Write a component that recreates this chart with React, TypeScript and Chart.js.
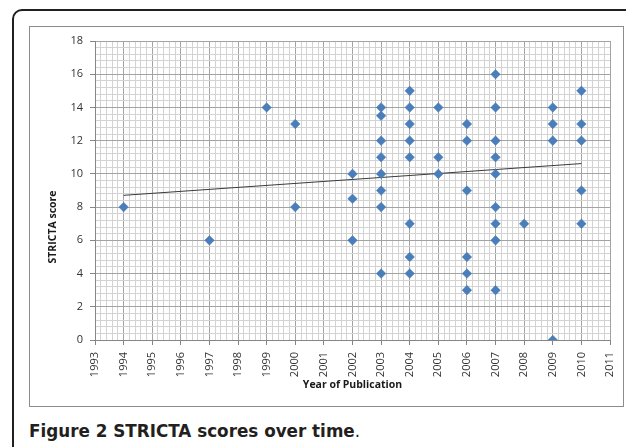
import React, { useEffect, useRef } from 'react';
import { Chart, registerables } from 'chart.js';

Chart.register(...registerables);

// Publication year of each study (one entry per marker)
const pubYears = [
  1994, 1997, 1999, 2000, 2000,
  2002, 2002, 2002,
  2003, 2003, 2003, 2003, 2003, 2003, 2003, 2003,
  2004, 2004, 2004, 2004, 2004, 2004, 2004, 2004,
  2005, 2005, 2005,
  2006, 2006, 2006, 2006, 2006, 2006,
  2007, 2007, 2007, 2007, 2007, 2007, 2007, 2007, 2007,
  2008,
  2009, 2009, 2009, 2009,
  2010, 2010, 2010, 2010, 2010,
];

// STRICTA score of each study (same order as pubYears)
const strictaScores = [
  8, 6, 14, 13, 8,
  10, 8.5, 6,
  14, 13.5, 12, 11, 10, 9, 8, 4,
  15, 14, 13, 12, 11, 7, 5, 4,
  14, 11, 10,
  13, 12, 9, 5, 4, 3,
  16, 14, 12, 11, 10, 8, 7, 6, 3,
  7,
  14, 13, 12, 0,
  15, 13, 12, 9, 7,
];

// Linear trendline end points
const trendYears = [1994, 2010];
const trendScores = [8.71, 10.62];

const xMin = 1993;
const xMax = 2011;
const yMin = 0;
const yMax = 18;
const xAxisTitle = 'Year of Publication';
const yAxisTitle = 'STRICTA score';

const TICK_FONT = '"Open Sans", "DejaVu Sans", sans-serif';
const MAJOR = '#a3a3a3';
const MINOR = '#d3d3d3';
const AXIS = '#868686';

const isInt = (v: number) => Math.abs(v - Math.round(v)) < 1e-6;
const isMajorX = (v: number) => isInt(v);
const isMajorY = (v: number) => isInt(v) && Math.round(v) % 2 === 0;

const labelsPlugin = {
  id: 'customLabels',
  afterDraw(chart: any) {
    const ctx = chart.ctx as CanvasRenderingContext2D;
    const xs = chart.scales.x;
    const area = chart.chartArea;
    ctx.save();
    // rotated year labels (reading bottom to top)
    ctx.fillStyle = '#333333';
    ctx.font = `11px ${TICK_FONT}`;
    ctx.textAlign = 'right';
    ctx.textBaseline = 'middle';
    xs.ticks.forEach((t: any) => {
      if (!isMajorX(t.value)) return;
      const px = xs.getPixelForValue(t.value);
      ctx.save();
      ctx.translate(px, area.bottom + 12);
      ctx.rotate(-Math.PI / 2);
      ctx.fillText(String(Math.round(t.value)), 0, 0);
      ctx.restore();
    });
    // x axis title
    ctx.fillStyle = '#1a1a1a';
    ctx.font = `bold 10.5px ${TICK_FONT}`;
    ctx.textAlign = 'center';
    ctx.textBaseline = 'middle';
    ctx.fillText(xAxisTitle, (area.left + area.right) / 2, 358);
    // y axis title
    ctx.save();
    ctx.translate(23, 200);
    ctx.rotate(-Math.PI / 2);
    ctx.fillText(yAxisTitle, 0, 0);
    ctx.restore();
    ctx.restore();
  },
};

export default function App() {
  const ref = useRef<HTMLCanvasElement>(null);

  useEffect(() => {
    const canvas = ref.current;
    if (!canvas) return;
    const points = pubYears.map((yr, i) => ({ x: yr, y: strictaScores[i] }));
    const trend = trendYears.map((yr, i) => ({ x: yr, y: trendScores[i] }));
    const chart = new Chart(canvas, {
      type: 'scatter',
      data: {
        datasets: [
          {
            label: 'STRICTA score',
            data: points,
            pointStyle: 'rectRot',
            pointRadius: 4.8,
            backgroundColor: '#4A7EBB',
            borderColor: '#4A7EBB',
            borderWidth: 0.5,
            order: 1,
          },
          {
            type: 'line',
            label: 'Trend',
            data: trend,
            borderColor: '#3a3a3a',
            borderWidth: 1,
            pointRadius: 0,
            fill: false,
            order: 2,
          } as any,
        ],
      },
      options: {
        animation: false,
        responsive: false,
        devicePixelRatio: 1,
        layout: { padding: { top: 14, right: 13, left: 0, bottom: 0 } },
        plugins: { legend: { display: false }, tooltip: { enabled: false } },
        scales: {
          x: {
            type: 'linear',
            min: xMin,
            max: xMax,
            afterBuildTicks: (s: any) => {
              const arr = [];
              for (let i = 0; i <= (xMax - xMin) * 5; i++) arr.push({ value: (xMin * 5 + i) / 5 });
              s.ticks = arr;
            },
            afterFit: (s: any) => { s.height = 66; },
            ticks: { display: false },
            grid: {
              color: (c: any) => (isMajorX(c.tick?.value ?? 0) ? MAJOR : MINOR),
              tickColor: (c: any) => (isMajorX(c.tick?.value ?? 0) ? AXIS : 'rgba(0,0,0,0)'),
              tickLength: 5,
              lineWidth: 1,
            },
            border: { color: AXIS, width: 1 },
          },
          y: {
            type: 'linear',
            min: yMin,
            max: yMax,
            afterBuildTicks: (s: any) => {
              const arr = [];
              for (let i = 0; i <= (yMax - yMin) * 2.5; i++) arr.push({ value: (yMin * 5 + i * 2) / 5 });
              s.ticks = arr;
            },
            afterFit: (s: any) => { s.width = 65; },
            ticks: {
              autoSkip: false,
              padding: 7,
              color: '#333333',
              font: { family: TICK_FONT, size: 11 },
              callback: (v: any) => (isMajorY(Number(v)) ? String(Math.round(Number(v))) : ''),
            },
            grid: {
              color: (c: any) => (isMajorY(c.tick?.value ?? 0) ? MAJOR : MINOR),
              tickColor: (c: any) => (isMajorY(c.tick?.value ?? 0) ? AXIS : 'rgba(0,0,0,0)'),
              tickLength: 5,
              lineWidth: 1,
            },
            border: { color: AXIS, width: 1 },
          },
        },
      },
      plugins: [labelsPlugin],
    });
    return () => chart.destroy();
  }, []);

  return (
    <div style={{ position: 'fixed', left: 0, top: 0, width: 626, height: 447, background: '#ffffff', overflow: 'hidden' }}>
      <div
        style={{
          position: 'absolute', left: 12, top: 9, width: 700, height: 600,
          border: '2px solid #231f20', borderTopLeftRadius: 10,
        }}
      />
      <div style={{ position: 'absolute', left: 29, top: 26, width: 593, height: 379, border: '1px solid #8c8c8c', background: '#fff' }}>
        <canvas ref={ref} width={593} height={379} style={{ display: 'block', width: 593, height: 379 }} />
      </div>
      <div
        style={{
          position: 'absolute', left: 29, top: 421, whiteSpace: 'nowrap',
          fontFamily: '"DejaVu Sans", sans-serif', fontWeight: 700, fontSize: 16.8,
          lineHeight: '20px', color: '#231f20',
        }}
      >
        Figure 2 STRICTA scores over time<span style={{ fontWeight: 400 }}>.</span>
      </div>
    </div>
  );
}
